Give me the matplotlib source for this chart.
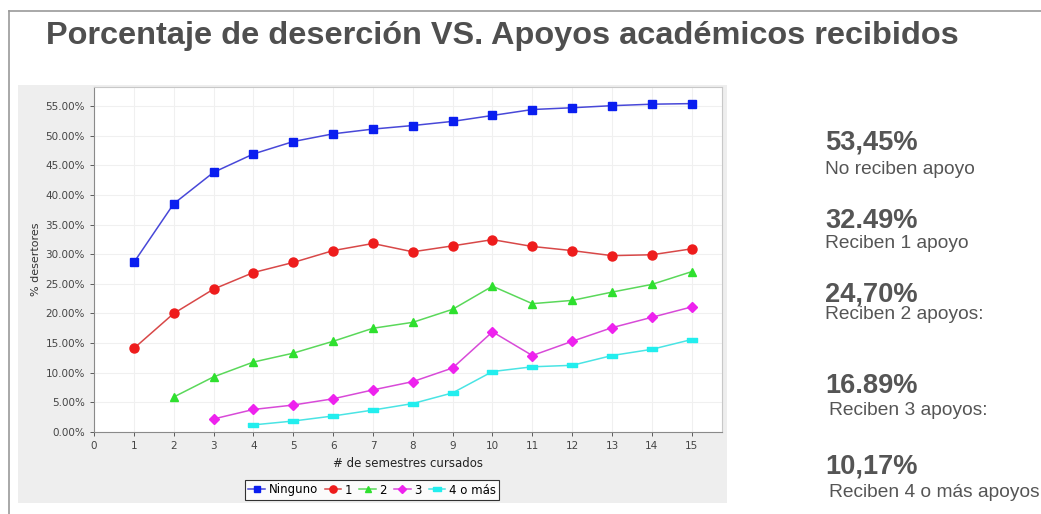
import matplotlib
matplotlib.use("Agg")
import matplotlib.pyplot as plt
from matplotlib.patches import Rectangle
from matplotlib.lines import Line2D
from matplotlib.ticker import FuncFormatter, MultipleLocator

# ---- data ----
semestres = list(range(1, 16))
ninguno = [28.6, 38.5, 43.8, 46.9, 49.0, 50.3, 51.1, 51.7, 52.4, 53.4, 54.4, 54.7, 55.05, 55.3, 55.4]
uno = [14.1, 20.0, 24.1, 26.9, 28.6, 30.6, 31.8, 30.4, 31.4, 32.45, 31.3, 30.6, 29.75, 29.9, 30.9]
dos_x = list(range(2, 16))
dos = [5.9, 9.3, 11.8, 13.3, 15.3, 17.5, 18.5, 20.7, 24.6, 21.65, 22.2, 23.6, 24.9, 27.05]
tres_x = list(range(3, 16))
tres = [2.2, 3.8, 4.55, 5.6, 7.1, 8.5, 10.8, 16.9, 12.9, 15.3, 17.6, 19.35, 21.1]
cuatro_x = list(range(4, 16))
cuatro = [1.2, 1.85, 2.7, 3.7, 4.8, 6.6, 10.2, 11.0, 11.25, 12.9, 13.95, 15.6]
series_labels = ["Ninguno", "1", "2", "3", "4 o más"]

titulo = "Porcentaje de deserción VS. Apoyos académicos recibidos"
resumen_valores = ["53,45%", "32.49%", "24,70%", "16.89%", "10,17%"]
resumen_textos = ["No reciben apoyo", "Reciben 1 apoyo", "Reciben 2 apoyos:",
                  "Reciben 3 apoyos:", "Reciben 4 o más apoyos"]

W, H = 1041, 514
fig = plt.figure(figsize=(W / 100, H / 100), dpi=100)
fig.patch.set_facecolor("white")

def fx(px):
    return px / W

def fy(py):
    return 1 - py / H

# outer frame lines
fig.add_artist(Line2D([fx(9), 1.0], [fy(11), fy(11)], color="#9a9a9a", lw=1.2))
fig.add_artist(Line2D([fx(9), fx(9)], [fy(11), 0.0], color="#9a9a9a", lw=1.2))

# gray chart panel
fig.add_artist(Rectangle((fx(18), fy(503)), fx(727) - fx(18), fy(85) - fy(503),
                         facecolor="#eeeeee", edgecolor="none", zorder=0))

# title
fig.text(fx(46), fy(44), titulo, fontsize=23.4, fontweight="bold", color="#4f4f4f",
         family="Liberation Sans", va="baseline", ha="left")

ax = fig.add_axes([fx(94), fy(432), fx(722) - fx(94), fy(87) - fy(432)])
ax.set_facecolor("white")

rect_marker = [(-1, -0.45), (1, -0.45), (1, 0.45), (-1, 0.45), (-1, -0.45)]
ax.plot(semestres, ninguno, color="#4848d8", lw=1.1, marker="s", ms=6,
        mfc="#0a1ef0", mec="#0a1ef0", label=series_labels[0])
ax.plot(semestres, uno, color="#d84848", lw=1.1, marker="o", ms=6.5,
        mfc="#ee1c1c", mec="#ee1c1c", label=series_labels[1])
ax.plot(dos_x, dos, color="#5ad85a", lw=1.1, marker="^", ms=6,
        mfc="#2ee02e", mec="#2ee02e", label=series_labels[2])
ax.plot(tres_x, tres, color="#d84ad8", lw=1.1, marker="D", ms=5,
        mfc="#ee22ee", mec="#ee22ee", label=series_labels[3])
ax.plot(cuatro_x, cuatro, color="#4ae4e4", lw=1.1, marker=rect_marker, ms=7,
        mfc="#22eeee", mec="#22eeee", label=series_labels[4])

ax.set_xlim(0, 15.76)
ax.set_ylim(0, 58.2)
ax.xaxis.set_major_locator(MultipleLocator(1))
ax.yaxis.set_major_locator(MultipleLocator(5))
ax.yaxis.set_major_formatter(FuncFormatter(lambda v, p: f"{v:.2f}%"))
ax.grid(True, color="#f0f0f0", lw=0.8)
ax.set_axisbelow(True)
for s in ["top", "right"]:
    ax.spines[s].set_color("#c8c8c8")
for s in ["left", "bottom"]:
    ax.spines[s].set_color("#8a8a8a")
ax.tick_params(axis="both", labelsize=7.5, colors="#444444", length=3, width=0.6)
ax.set_xlabel("# de semestres cursados", fontsize=8.5, color="#222222", labelpad=4)
ax.set_ylabel("% desertores", fontsize=8, color="#333333", labelpad=3)

leg = fig.legend(loc="center", bbox_to_anchor=(fx(372), fy(490)), ncol=5,
                 fontsize=8.5, frameon=True, fancybox=False, handlelength=1.4,
                 handletextpad=0.3, columnspacing=0.6, borderpad=0.3,
                 markerscale=0.8)
leg.get_frame().set_edgecolor("black")
leg.get_frame().set_linewidth(0.8)
leg.get_frame().set_facecolor("white")

# right summary (baselines in pixels)
num_base = [149, 228, 302, 393, 473]
txt_base = [174, 248, 319, 415, 497]
txt_x = [825, 825, 825, 829, 829]
for v, t, nb, tb, tx in zip(resumen_valores, resumen_textos, num_base, txt_base, txt_x):
    fig.text(fx(825), fy(nb), v, fontsize=19.6, fontweight="bold", color="#555555",
             family="Liberation Sans", va="baseline", ha="left")
    fig.text(fx(tx), fy(tb), t, fontsize=13.8, color="#555555",
             family="Liberation Sans", va="baseline", ha="left")

fig.savefig("out.png", dpi=100)
